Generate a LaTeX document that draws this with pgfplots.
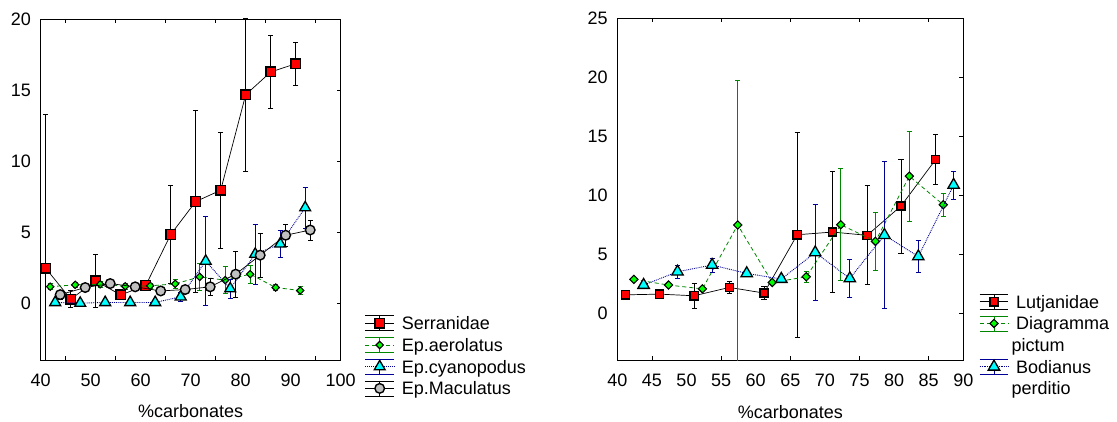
\documentclass[border=0pt]{standalone}
\usepackage{pgfplots}
\pgfplotsset{compat=1.18}
\usepackage{pgfplotstable}
\usepackage{fontspec}
\setmainfont{Liberation Sans}
\definecolor{dgreen}{RGB}{0,135,0}
\definecolor{navy}{RGB}{0,0,150}
\definecolor{mgray}{RGB}{192,192,192}
\definecolor{lgreen}{RGB}{0,255,0}
\definecolor{cyanm}{RGB}{0,255,255}

% x  y  err
\pgfplotstableread{
41 2.46 10.8
46 0.28 0.6
51 1.57 1.85
56 0.58 0.2
61 1.24 0.2
66 4.83 3.44
71 7.15 6.4
76 7.95 4.07
81 14.67 5.4
86 16.27 2.56
91 16.85 1.53
}\serr
\pgfplotstableread{
41.9 1.16 0.2
46.9 1.29 0.2
51.9 1.33 0.2
56.9 1.19 0.2
61.9 1.22 0.2
66.9 1.36 0.35
71.8 1.85 0.92
76.9 1.62 0.95
81.9 2.04 0.65
87.0 1.10 0.2
91.9 0.89 0.3
}\aero
\pgfplotstableread{
42.9 0.05 0.1
47.9 0.00 0.1
52.9 0.05 0.1
57.9 0.05 0.1
62.9 0.05 0.1
68.0 0.45 0.3
73.0 2.96 3.13
77.9 1.02 0.65
82.9 3.45 2.1
87.9 4.17 0.95
92.9 6.72 1.45
}\cyano
\pgfplotstableread{
43.9 0.60 0.3
48.9 1.10 0.2
53.9 1.38 0.2
58.9 1.15 0.2
64.0 0.86 0.2
68.9 0.96 0.3
73.9 1.15 0.62
79.0 2.04 1.6
83.9 3.38 1.55
89.0 4.78 0.8
93.9 5.15 0.7
}\macul
\pgfplotstableread{
41.2 1.53 0.15
46.1 1.59 0.15
51.1 1.45 1.05
56.2 2.16 0.5
61.2 1.68 0.55
66.0 6.63 8.7
71.1 6.86 5.15
76.1 6.58 4.2
81.0 9.07 4.0
86.0 13.01 2.1
}\lutj
\pgfplotstableread{
42.4 2.84 0.1
47.4 2.36 0.1
52.3 2.04 0.15
57.4 7.46 12.3
62.4 2.58 0.15
67.3 3.06 0.5
72.3 7.48 4.75
77.3 6.07 2.45
82.2 11.60 3.8
87.1 9.18 0.95
}\diag
\pgfplotstableread{
43.8 2.36 0.15
48.7 3.49 0.55
53.7 4.06 0.6
58.7 3.35 0.25
63.7 2.87 0.3
68.6 5.12 4.1
73.6 2.92 1.63
78.6 6.60 6.25
83.5 4.78 1.35
88.6 10.85 1.2
}\bodi

\pgfplotsset{
  errleg/.style={legend image code/.code={
     \draw[#1, line width=0.7bp, solid] (0bp,7.5bp)--(28.5bp,7.5bp) (0bp,-7.5bp)--(28.5bp,-7.5bp) (14.25bp,7.5bp)--(14.25bp,-7.5bp);
     \draw[mark repeat=2,mark phase=2,##1] plot coordinates {(0bp,0bp) (14.25bp,0bp) (28.5bp,0bp)};}},
  base/.style={
    scale only axis, anchor=south west,
    axis line style={line width=0.8bp, black},
    /pgf/number format/assume math mode=true,
    clip mode=individual,
    ytick pos=right, yticklabel pos=left,
    major tick length=4bp,
    tick style={line width=0.7bp, black},
    xticklabels={},
    extra x tick style={major tick length=0pt},
    xticklabel style={inner sep=0pt, anchor=base, yshift=-26.2bp},
    yticklabel style={inner sep=0pt, anchor=east, xshift=-9.5bp},
    xlabel={\%carbonates},
    xlabel style={at={(axis description cs:0.5,0)}, anchor=base, yshift=-58bp, inner sep=0pt},
    legend cell align=left,
    legend style={draw=none, fill=none, anchor=north west, inner sep=0pt, outer sep=0pt,
      row sep=4.2bp, column sep=7.5bp, font=\fontsize{18bp}{21.7bp}\selectfont,
      nodes={inner sep=0pt, text height=15.2bp, text depth=2.3bp}, cells={anchor=west}},
  },
  ebar/.style={error bars/.cd, y dir=both, y explicit,
    error bar style={#1, line width=0.7bp, solid},
    error mark options={rotate=90, #1, mark size=2.6bp, line width=0.7bp, solid}},
}

\begin{document}
\begin{tikzpicture}[font=\fontsize{18bp}{21.7bp}\selectfont]
\path[use as bounding box] (0,0) rectangle (1117bp,422bp);

\begin{axis}[base,
  at={(40.7bp,62bp)}, width=300bp, height=341bp,
  xmin=40, xmax=100, ymin=-4, ymax=20,
  xtick={45,55,...,95},
  extra x ticks={40,50,...,100}, extra x tick labels={40,50,60,70,80,90,100},
  ytick={0,5,...,20},
  legend style={at={(1.081,0.1333)}},
]
\addplot[black, line width=0.7bp, mark=square*, mark size=4.8bp,
  mark options={fill=red, draw=black, line width=1.4bp, solid}, errleg=black, ebar=black]
  table[x index=0, y index=1, y error index=2] {\serr};
\addlegendentry{Serranidae}
\addplot[dgreen, line width=0.8bp, dash pattern=on 4bp off 3bp, mark=square*, mark size=2.6bp,
  mark options={fill=lgreen, draw=black, line width=1.1bp, solid, rotate=45}, errleg=dgreen, ebar=dgreen]
  table[x index=0, y index=1, y error index=2] {\aero};
\addlegendentry{Ep.aerolatus}
\addplot[navy, line width=0.9bp, densely dotted, mark=triangle*, mark size=6.3bp,
  mark options={fill=cyanm, draw=black, line width=1.3bp, solid}, errleg=navy, ebar=navy]
  table[x index=0, y index=1, y error index=2] {\cyano};
\addlegendentry{Ep.cyanopodus}
\addplot[black, line width=0.7bp, mark=*, mark size=4.8bp,
  mark options={fill=mgray, draw=black, line width=1.4bp, solid}, errleg=black, ebar=black]
  table[x index=0, y index=1, y error index=2] {\macul};
\addlegendentry{Ep.Maculatus}
\end{axis}

\begin{axis}[base,
  at={(617.3bp,62bp)}, width=346bp, height=341.7bp,
  xmin=40, xmax=90, ymin=-4, ymax=25,
  xtick={45,55,...,85},
  extra x ticks={40,45,...,90}, extra x tick labels={40,45,50,55,60,65,70,75,80,85,90},
  ytick={0,5,...,25},
  legend style={at={(1.0462,0.1962)}},
]
\addplot[black, line width=0.7bp, mark=square*, mark size=4.1bp,
  mark options={fill=red, draw=black, line width=1.4bp, solid}, errleg=black, ebar=black]
  table[x index=0, y index=1, y error index=2] {\lutj};
\addlegendentry{Lutjanidae}
\addplot[dgreen, line width=0.8bp, dash pattern=on 4bp off 3bp, mark=square*, mark size=2.9bp,
  mark options={fill=lgreen, draw=black, line width=1.1bp, solid, rotate=45}, errleg=dgreen, ebar=dgreen]
  table[x index=0, y index=1, y error index=2] {\diag};
\addlegendentry{Diagramma}
\addlegendimage{empty legend}
\addlegendentry{\hspace*{-4.6bp}pictum}
\addplot[navy, line width=0.9bp, densely dotted, mark=triangle*, mark size=6.6bp,
  mark options={fill=cyanm, draw=black, line width=1.3bp, solid}, errleg=navy, ebar=navy]
  table[x index=0, y index=1, y error index=2] {\bodi};
\addlegendentry{Bodianus}
\addlegendimage{empty legend}
\addlegendentry{\hspace*{-4.6bp}perditio}
\end{axis}
\end{tikzpicture}
\end{document}
